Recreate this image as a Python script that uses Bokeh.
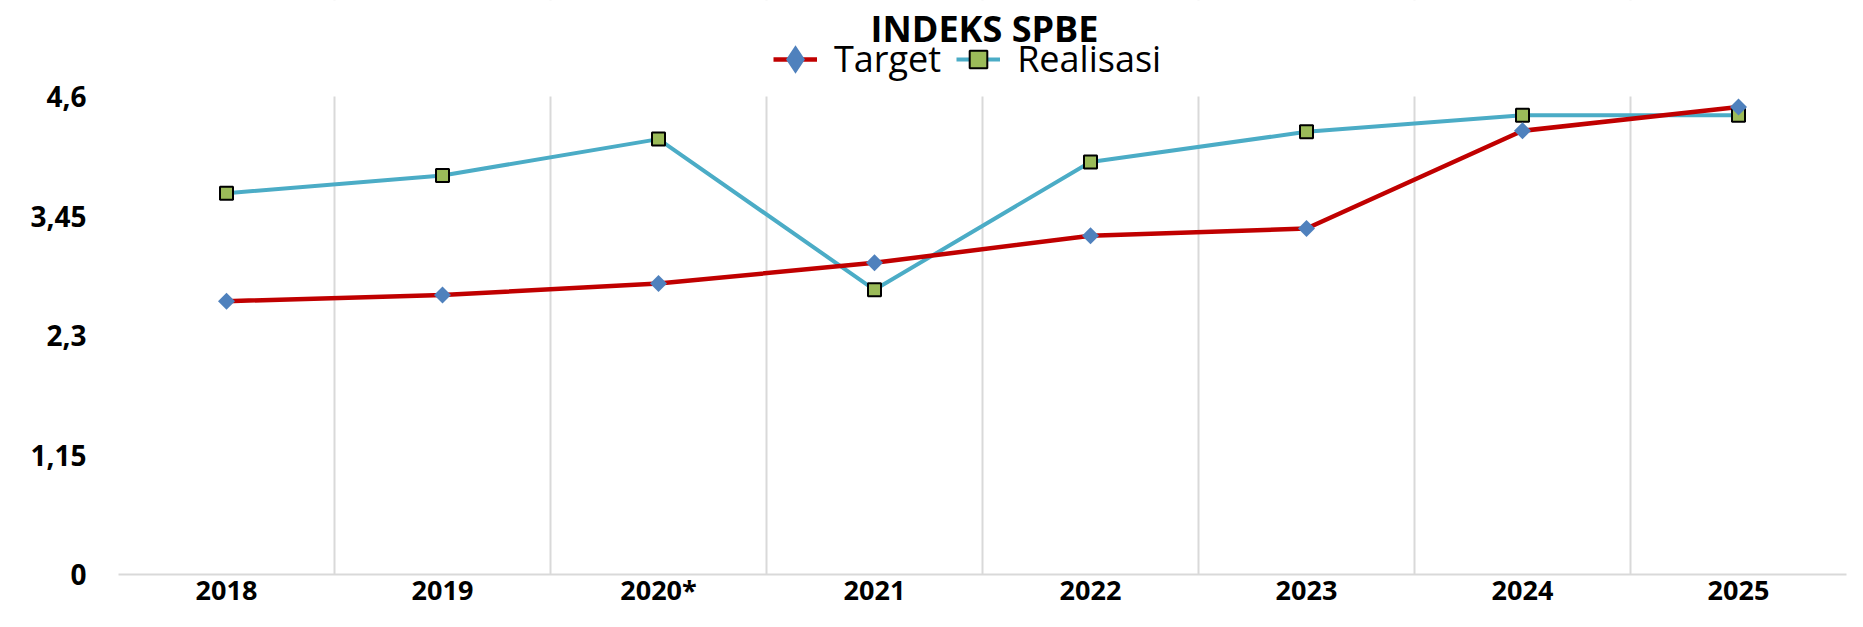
from math import pi
from bokeh.plotting import figure
from bokeh.models import (FactorRange, Range1d, FixedTicker, CustomJSTickFormatter,
                          Legend, LegendItem, Label, BoxAnnotation)
from bokeh.embed import file_html
from bokeh.resources import INLINE

# ---- data ----
years = ["2018", "2019", "2020*", "2021", "2022", "2023", "2024", "2025"]
target = [2.63, 2.69, 2.80, 3.00, 3.26, 3.33, 4.27, 4.50]
realisasi = [3.67, 3.84, 4.19, 2.74, 3.97, 4.26, 4.42, 4.42]
y_ticks = [0, 1.15, 2.3, 3.45, 4.6]
title_text = "INDEKS SPBE"
series_names = ["Target", "Realisasi"]

FONT = "Open Sans"
RED = "#C00000"
BLUE = "#4BACC6"
DIAMOND = "#4F81BD"
GREEN = "#9BBB59"
GRID = "#D9D9D9"

# layout (pixels): the plot frame spans the full height; header lives inside it
W, H = 1847, 611
BORDER_L, BORDER_B = 118, 37
FRAME_H = H - BORDER_B
Y_TOP_PX = 96                      # distance from frame top down to the top tick line
y_max = y_ticks[-1]
y_end = y_max * FRAME_H / (FRAME_H - Y_TOP_PX)

p = figure(width=W, height=H, title=None,
           x_range=FactorRange(*years), y_range=Range1d(0, y_end),
           output_backend="svg", toolbar_location=None,
           min_border_left=BORDER_L, min_border_right=1,
           min_border_top=0, min_border_bottom=BORDER_B)
p.outline_line_color = None
p.background_fill_color = "white"
p.border_fill_color = "white"

# axes
p.yaxis.ticker = FixedTicker(ticks=y_ticks)
p.yaxis.formatter = CustomJSTickFormatter(code="return tick.toString().replace('.', ',')")
p.yaxis.axis_label = None
p.yaxis.axis_line_color = None
p.yaxis.major_tick_line_color = None
p.yaxis.minor_tick_line_color = None
p.yaxis.major_tick_out = 0
p.yaxis.major_tick_in = 0
p.yaxis.minor_tick_out = 0
p.yaxis.major_label_standoff = 32
p.yaxis.major_label_text_font = FONT
p.yaxis.major_label_text_font_style = "bold"
p.yaxis.major_label_text_font_size = "28px"
p.yaxis.major_label_text_color = "black"

p.xaxis.axis_label = None
p.xaxis.axis_line_color = GRID
p.xaxis.axis_line_width = 2
p.xaxis.major_tick_line_color = None
p.xaxis.minor_tick_line_color = None
p.xaxis.major_tick_out = 0
p.xaxis.major_tick_in = 0
p.xaxis.major_label_standoff = -4
p.xaxis.major_label_text_font = FONT
p.xaxis.major_label_text_font_style = "bold"
p.xaxis.major_label_text_font_size = "27px"
p.xaxis.major_label_text_color = "black"

# grid: vertical lines on the category boundaries, only up to the top tick
p.ygrid.visible = False
p.xgrid.ticker = FixedTicker(ticks=list(range(0, len(years) + 1)))
p.xgrid.grid_line_color = GRID
p.xgrid.grid_line_width = 2
p.add_layout(BoxAnnotation(bottom=y_max, fill_color="white", fill_alpha=1.0,
                           line_alpha=0))

# series
r_line = p.line(x=years, y=realisasi, line_color=BLUE, line_width=4)
t_line = p.line(x=years, y=target, line_color=RED, line_width=4.5)
# legend swatch for Target (tiny, hidden beneath the real diamonds)
t_swatch = p.scatter(x=years, y=target, marker="diamond", size=1,
                     fill_color=DIAMOND, line_color=DIAMOND, line_width=6,
                     line_join="miter")
r_pts = p.scatter(x=years, y=realisasi, marker="square", size=13,
                  fill_color=GREEN, line_color="black", line_width=2)
t_pts = p.scatter(x=years, y=target, marker="square", angle=pi / 4, size=12,
                  fill_color=DIAMOND, line_color=None)

LEG_FS = 36
legend = Legend(items=[LegendItem(label=series_names[0], renderers=[t_line, t_swatch]),
                       LegendItem(label=series_names[1], renderers=[r_line, r_pts])],
                orientation="horizontal",
                location=(773 - BORDER_L, FRAME_H - 83),
                padding=0, margin=0, spacing=15, label_standoff=17,
                glyph_width=44, glyph_height=44,
                border_line_color=None, background_fill_alpha=0,
                label_text_font=FONT, label_text_font_size=f"{LEG_FS}px",
                label_text_color="black")
p.add_layout(legend, "center")

title = Label(x=984 - BORDER_L, y=FRAME_H - 28, x_units="screen", y_units="screen",
              text=title_text,
              text_font=FONT, text_font_style="bold", text_font_size="36px",
              text_align="center", text_baseline="middle", text_color="black")
p.add_layout(title)

open("out.html", "w").write(file_html(p, INLINE))
